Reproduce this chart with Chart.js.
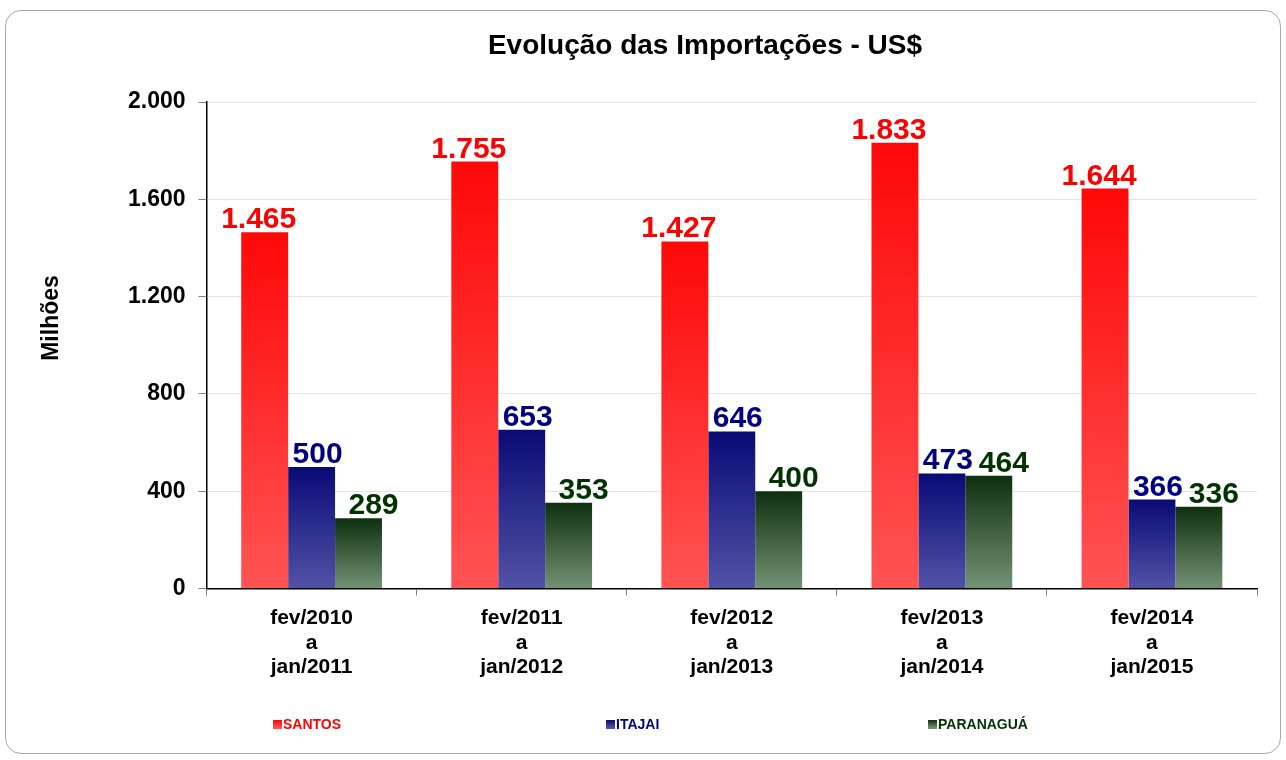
<!DOCTYPE html>
<html lang="pt-BR">
<head>
<meta charset="utf-8">
<title>Evolução das Importações - US$</title>
<script src="https://cdn.jsdelivr.net/npm/chart.js@4/dist/chart.umd.min.js"></script>
<style>
  html, body { margin: 0; padding: 0; background: #fff; }
  #wrap { position: relative; width: 1286px; height: 760px; }
  #frame {
    position: absolute; left: 5px; top: 10px; width: 1276px; height: 744px;
    border: 1.5px solid #a8a8a8; border-radius: 16px; box-sizing: border-box;
  }
  canvas { position: absolute; left: 0; top: 0; }
</style>
</head>
<body>
<div id="wrap">
  <div id="frame"></div>
  <canvas id="chart" width="1286" height="760"></canvas>
</div>
<script>
// values (US$ millions)
const periods   = [['fev/2010','a','jan/2011'], ['fev/2011','a','jan/2012'], ['fev/2012','a','jan/2013'],
                   ['fev/2013','a','jan/2014'], ['fev/2014','a','jan/2015']];
const santos    = [1465, 1755, 1427, 1833, 1644];
const itajai    = [500, 653, 646, 473, 366];
const paranagua = [289, 353, 400, 464, 336];
const yTicks    = [0, 400, 800, 1200, 1600, 2000];

const FONT = '"Liberation Sans", Arial, Helvetica, sans-serif';
const TITLE = 'Evolução das Importações - US$';
const Y_TITLE = 'Milhões';

// top / bottom colours of each bar's vertical fade, plus text colour
const styles = [
  { label: 'SANTOS',    data: santos,    top: 'rgb(255,8,8)',   bottom: 'rgb(255,84,84)',   text: '#ff0000', dx: -6 },
  { label: 'ITAJAI',    data: itajai,    top: 'rgb(10,10,118)', bottom: 'rgb(82,82,166)',   text: '#000080', dx: 6 },
  { label: 'PARANAGUÁ', data: paranagua, top: 'rgb(14,48,14)',  bottom: 'rgb(116,146,116)', text: '#003300', dx: 15 },
];

function fmt(v){
  return String(v).replace(/\B(?=(\d{3})+(?!\d))/g, '.');
}

function barFill(s){
  return (ctx) => {
    const chart = ctx.chart;
    if (!chart.chartArea || ctx.type !== 'data') return s.top;
    const y = chart.scales.y;
    const top = y.getPixelForValue(ctx.parsed.y);
    const bottom = y.getPixelForValue(0);
    if (!isFinite(top) || bottom - top < 1) return s.top;
    const g = chart.ctx.createLinearGradient(0, top, 0, bottom);
    g.addColorStop(0, s.top);
    g.addColorStop(1, s.bottom);
    return g;
  };
}

// value labels over bars, titles and the spread-out legend
const decorations = {
  id: 'decorations',
  afterDatasetsDraw(chart){
    const c = chart.ctx;
    c.save();
    c.textAlign = 'center';
    c.textBaseline = 'alphabetic';
    c.font = 'bold 30px ' + FONT;
    chart.data.datasets.forEach((ds, i) => {
      const meta = chart.getDatasetMeta(i);
      c.fillStyle = styles[i].text;
      meta.data.forEach((bar, j) => {
        c.fillText(fmt(ds.data[j]), bar.x + styles[i].dx, bar.y - 4);
      });
    });
    c.restore();
  },
  afterDraw(chart){
    const c = chart.ctx;
    c.save();
    c.fillStyle = '#000';
    c.font = 'bold 28px ' + FONT;
    c.textAlign = 'center';
    c.textBaseline = 'middle';
    c.fillText(TITLE, 705, 46);

    // y axis title sits above the axis middle in the reference
    c.save();
    c.translate(52, 318);
    c.rotate(-Math.PI / 2);
    c.font = 'bold 23px ' + FONT;
    c.fillText(Y_TITLE, 0, 0);
    c.restore();

    const legendX = [273, 606, 928];
    c.font = 'bold 14px ' + FONT;
    c.textAlign = 'left';
    styles.forEach((s, i) => {
      const x = legendX[i], y = 724;
      const g = c.createLinearGradient(0, y - 4, 0, y + 4);
      g.addColorStop(0, s.top);
      g.addColorStop(1, s.bottom);
      c.fillStyle = g;
      c.fillRect(x, y - 4, 9, 9);
      c.fillStyle = s.text;
      c.fillText(s.label, x + 10, y + 1);
    });
    c.restore();
  }
};

new Chart(document.getElementById('chart').getContext('2d'), {
  type: 'bar',
  data: {
    labels: periods,
    datasets: styles.map(s => ({
      label: s.label,
      data: s.data,
      backgroundColor: barFill(s),
      borderWidth: 0,
      categoryPercentage: 0.67,
      barPercentage: 1.0,
    })),
  },
  options: {
    responsive: false,
    animation: false,
    devicePixelRatio: 1,
    layout: { padding: { top: 102, right: 29, bottom: 70, left: 115 } },
    plugins: {
      legend: { display: false },
      title: { display: false },
      tooltip: { enabled: false },
    },
    scales: {
      x: {
        grid: { drawOnChartArea: false, tickLength: 7, tickColor: '#808080', offset: true },
        border: { color: '#000', width: 1.5 },
        ticks: { color: '#000', font: { family: FONT, size: 21, weight: 'bold', lineHeight: 1.15 }, padding: 11, maxRotation: 0, autoSkip: false },
      },
      y: {
        min: 0,
        max: 2000,
        afterBuildTicks(axis){ axis.ticks = yTicks.map(v => ({ value: v })); },
        grid: { color: '#e4e4e4', tickColor: '#808080', tickLength: 8 },
        border: { color: '#000', width: 1.5 },
        ticks: { color: '#000', font: { family: FONT, size: 23, weight: 'bold' }, padding: 13, callback: v => fmt(v) },
      },
    },
  },
  plugins: [decorations],
});
</script>
</body>
</html>
